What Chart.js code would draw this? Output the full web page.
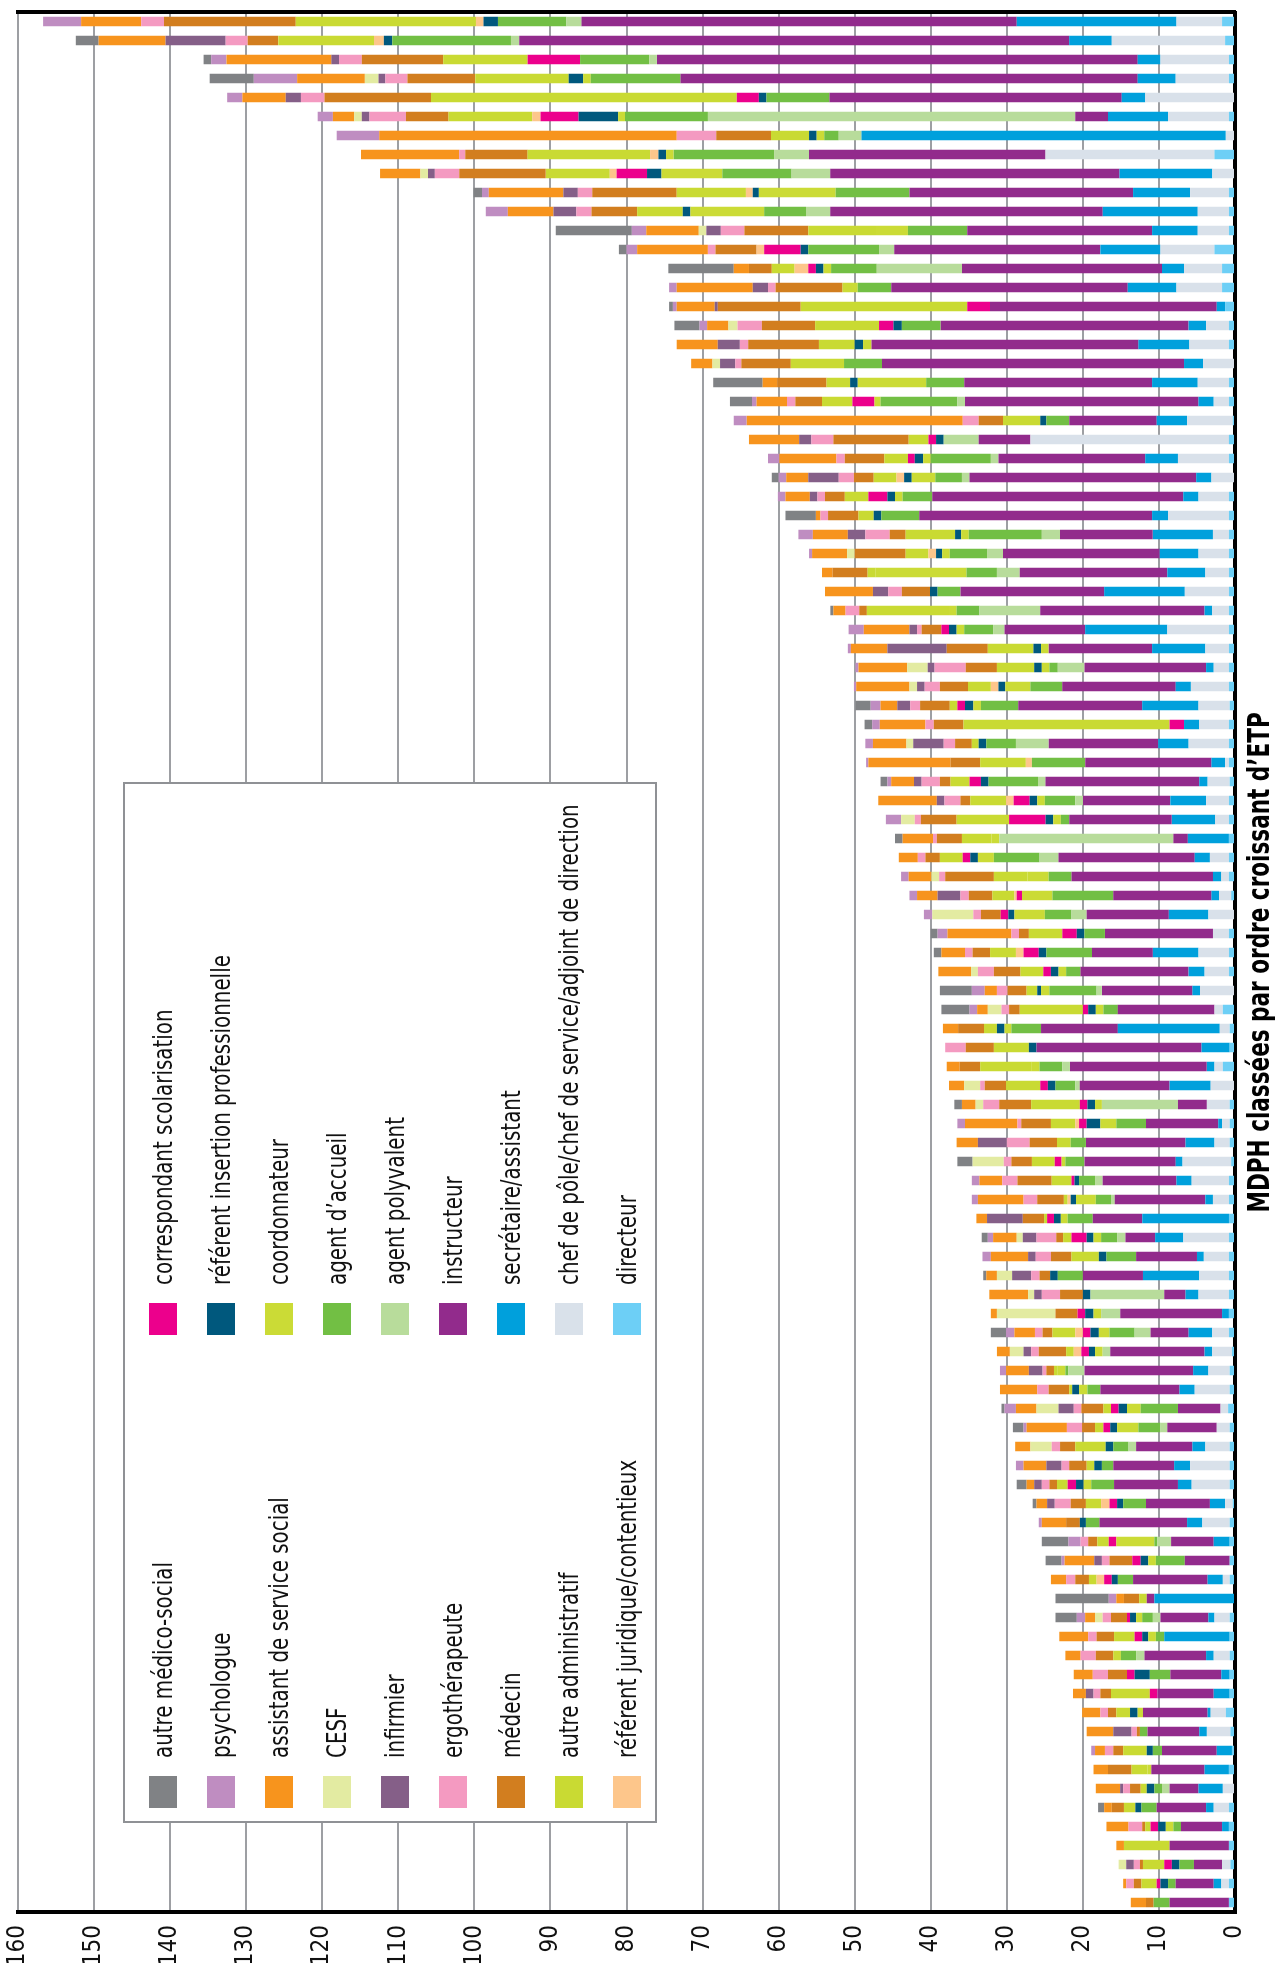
<!DOCTYPE html>
<html lang="fr">
<head>
<meta charset="utf-8">
<title>ETP des MDPH par fonction</title>
<script src="https://cdn.jsdelivr.net/npm/chart.js@4.4.1/dist/chart.umd.min.js"></script>
<style>
  html, body { margin: 0; padding: 0; background: #fff; }
  body { width: 1284px; height: 1963px; position: relative; overflow: hidden; }
  /* le graphique est dessiné à l'horizontale puis tourné d'un quart de tour */
  #frame {
    position: absolute; left: 0; top: 0; width: 1963px; height: 1284px;
    transform-origin: 0 0; transform: translateY(1963px) rotate(-90deg);
    font-family: 'Liberation Sans Narrow', 'DejaVu Sans Condensed', sans-serif;
  }
  #chart { position: absolute; left: 0; top: 0; }
  #legend {
    position: absolute; left: 140px; top: 123px; width: 1041px; height: 534px;
    box-sizing: border-box; border: 2px solid #8f9195; background: #fff;
  }
  .item { position: absolute; height: 30px; display: flex; align-items: center; white-space: nowrap; }
  .sw { width: 32px; height: 28px; margin-right: 18px; flex: none; }
  .item span { font-size: 26px; color: #111; display: inline-block; transform: scaleX(0.85); transform-origin: 0 50%; }
  #xtitle {
    position: absolute; left: 51px; width: 1900px; top: 1240px; text-align: center;
    font-size: 31px; font-weight: bold; line-height: 36px; color: #000;
  }
  #xtitle span { display: inline-block; transform-origin: 50% 50%; }
</style>
</head>
<body>
<div id="frame">
  <canvas id="chart" width="1963" height="1284"></canvas>
  <div id="legend"></div>
  <div id="xtitle"><span>MDPH classées par ordre croissant d’ETP</span></div>
</div>
<script>
// ETP par fonction, une valeur par MDPH, de la plus grosse à la plus petite
const directeur = [
  1.7, 1.3, 0.8, 0.8, 0, 0.8, 0, 2.7, 0, 0.8,
  0.8, 0.8, 2.7, 1.7, 1.7, 1.3, 0.8, 0.8, 0, 0.8,
  0.8, 0.3, 0.8, 0.8, 0, 0.8, 0.8, 0.8, 0.8, 0.8,
  0.8, 0.8, 0.8, 0.8, 0.8, 0.8, 0.7, 0.8, 0.8, 0.8,
  0.7, 0.8, 0.8, 0.8, 0.8, 0.8, 0.5, 0, 0.8, 0.8,
  0.8, 0, 1.6, 0.7, 0.7, 1.6, 0, 0.7, 0.7, 0.7,
  0.5, 0.8, 0.8, 0.8, 0.8, 0.8, 0.8, 0.8, 0.8, 0.8,
  0.4, 0.7, 0.7, 0.9, 0.7, 0.7, 0.7, 0.7, 0.3, 0.7,
  0.7, 0.7, 0.7, 0, 0.7, 0.7, 0.7, 0.7, 0.7, 1.2,
  0.6, 0.4, 0.8, 0, 0.8, 0.8, 0.8, 0.6, 0.8, 0.8
];
const chefPole = [
  6.0, 14.9, 9.0, 7.0, 11.8, 8.0, 1.2, 22.2, 3.0, 5.1,
  4.1, 4.1, 7.1, 5.0, 6.0, 0, 3.0, 5.2, 4.2, 4.1,
  2.0, 6.0, 26.1, 6.7, 3.1, 4.0, 8.0, 2.1, 4.0, 3.1,
  5.8, 2.2, 8.1, 3.1, 2.0, 5.0, 4.1, 3.9, 5.3, 0.5,
  2.9, 3.0, 1.8, 0, 2.5, 1.0, 1.6, 3.5, 2.1, 4.0,
  3.2, 4.6, 1.1, 1.3, 0, 1.1, 3.2, 3.0, 1.0, 2.0,
  6.4, 4.9, 2.1, 0, 6.0, 3.3, 3.9, 4.0, 0, 2.2,
  2.6, 2.8, 4.6, 1.0, 1.7, 3.2, 5.2, 5.0, 1.0, 3.6,
  0, 0, 0.9, 0, 2.0, 0, 2.1, 0, 0, 2.0,
  3.1, 0, 0, 1.6, 2.0, 0, 0, 1.1, 1.0, 0
];
const secretaire = [
  21.0, 5.6, 3.0, 5.0, 3.1, 7.9, 47.9, 0, 12.2, 7.5,
  12.5, 6.0, 7.9, 2.9, 6.4, 1.1, 2.3, 6.7, 2.5, 6.0,
  2.0, 4.0, 0, 4.3, 2.0, 2.0, 2.1, 7.9, 5.1, 5.0,
  10.6, 1.0, 10.8, 7.0, 1.0, 2.0, 7.4, 2.0, 4.0, 1.8,
  1.1, 4.7, 5.7, 5.4, 2.0, 1.1, 1.0, 5.2, 0, 6.0,
  2.1, 1.0, 0, 13.4, 3.7, 1.0, 5.4, 0, 0.5, 3.8,
  0.9, 2.0, 1.0, 11.4, 3.7, 0.9, 7.4, 1.7, 0.9, 3.1,
  1.0, 2.0, 2.0, 0, 0, 1.7, 2.1, 1.8, 2.0, 2.0,
  2.1, 0, 2.0, 10.6, 0.8, 8.6, 1.0, 1.1, 2.1, 0.4,
  1.0, 2.0, 3.2, 3.2, 1.0, 0.9, 0, 0, 1.0, 0
];
const instructeur = [
  57.2, 72.3, 63.2, 60.1, 38.4, 4.3, 0, 31.1, 38.0, 29.4,
  35.8, 24.3, 27.1, 26.3, 31.1, 29.8, 32.6, 35.1, 39.7, 24.7,
  30.7, 11.5, 6.8, 19.3, 29.8, 33.0, 30.6, 12.2, 20.6, 19.4,
  18.9, 21.6, 10.6, 13.6, 16.0, 14.9, 16.3, 0, 14.4, 16.6,
  20.2, 11.5, 13.5, 1.9, 17.9, 18.6, 12.9, 10.8, 14.2, 8.0,
  14.2, 11.9, 12.7, 10.1, 21.7, 18.0, 11.8, 3.8, 9.5, 13.1,
  12.0, 9.7, 11.9, 6.5, 3.9, 8.0, 7.9, 2.8, 13.4, 5.0,
  12.4, 14.3, 10.4, 5.6, 6.5, 7.4, 8.0, 8.4, 8.4, 11.5,
  5.6, 5.9, 9.8, 1.0, 6.3, 0, 8.1, 6.7, 7.4, 8.5,
  6.8, 7.2, 7.0, 3.8, 6.5, 5.4, 7.8, 3.7, 5.0, 7.8
];
const agentPolyvalent = [
  2.0, 1.1, 1.0, 0, 0, 48.3, 3.0, 4.6, 5.1, 0,
  3.2, 0, 2.0, 11.2, 0, 0, 0, 0, 0, 0,
  1.0, 0, 4.6, 1.0, 1.0, 0, 0, 2.4, 2.1, 3.0,
  0, 8.0, 1.5, 0, 3.5, 0, 0, 0, 4.3, 0,
  1.0, 1.0, 0, 22.9, 2.5, 0, 0, 2.0, 0, 0,
  0, 0.7, 0, 0, 0, 1.0, 0.6, 10.0, 0, 0,
  0, 1.0, 0.5, 0, 1.1, 0, 0, 9.7, 2.5, 2.1,
  1.0, 2.1, 0, 0, 0.9, 1.0, 0, 0, 0, 0,
  1.8, 0, 0, 0, 1.0, 0, 1.1, 0, 0, 0,
  0, 0, 0, 1.0, 0, 0, 0, 0, 0, 0
];
const agentAccueil = [
  9.0, 15.6, 9.1, 11.8, 8.3, 10.9, 1.9, 13.2, 9.1, 9.7,
  5.5, 7.8, 9.3, 6.0, 4.4, 0, 5.1, 0, 5.0, 5.0,
  10.1, 3.0, 0, 7.9, 3.5, 3.9, 5.0, 9.6, 4.9, 4.0,
  3.0, 3.0, 3.8, 0, 1.1, 4.2, 4.9, 0, 3.9, 7.0,
  6.5, 4.0, 1.1, 0, 6.0, 3.0, 8.0, 3.5, 2.7, 6.0,
  1.9, 6.2, 1.9, 3.9, 0, 3.0, 2.6, 0, 3.9, 2.0,
  2.5, 2.1, 2.0, 3.3, 2.1, 3.9, 3.3, 0, 0, 3.3,
  0, 0.4, 1.7, 4.9, 2.9, 2.0, 1.5, 3.0, 3.0, 1.8,
  0.4, 3.8, 2.0, 0, 1.4, 1.1, 2.0, 2.7, 0, 0,
  1.0, 1.2, 0, 1.0, 2.0, 1.0, 0, 1.9, 1.0, 2.1
];
const coordonnateur = [
  0, 0, 0, 1.0, 0, 0.9, 1.0, 1.0, 8.0, 10.1,
  9.7, 4.2, 0, 1.0, 2.0, 0, 0, 1.1, 0, 9.0,
  0.8, 0, 0, 1.0, 3.1, 1.0, 0, 1.0, 1.0, 12.0,
  0, 1.0, 1.0, 1.0, 1.0, 3.3, 1.0, 0, 0, 0,
  0, 1.0, 1.0, 1.0, 2.1, 2.8, 4.0, 4.0, 0, 0,
  1.0, 1.1, 1.0, 0.9, 0, 1.1, 0, 0.9, 2.1, 0,
  0.5, 0, 2.6, 0.9, 1.0, 0, 0, 0, 1.0, 1.4,
  1.0, 1.0, 1.1, 1.8, 2.8, 0, 0, 1.0, 0, 0,
  5.0, 1.0, 0, 0, 0.8, 1.0, 1.0, 0, 0, 0.7,
  0, 0, 0.5, 0, 0, 1.0, 0, 0, 0, 0
];
const refInsertion = [
  1.9, 1.1, 0, 1.9, 1.0, 5.2, 1.0, 1.0, 1.9, 0.8,
  1.0, 0, 1.0, 1.0, 0, 0, 1.1, 1.1, 0, 1.0,
  0, 0.8, 1.0, 1.1, 1.0, 1.0, 1.0, 0.8, 0.8, 0,
  1.0, 0, 1.0, 1.0, 1.0, 0.9, 1.1, 0, 1.0, 0,
  1.0, 1.0, 1.0, 0, 1.0, 0, 0, 0.8, 1.0, 1.0,
  1.0, 0.5, 1.0, 1.0, 1.0, 0, 1.0, 1.0, 1.8, 0,
  0, 0.6, 0.7, 0.9, 0.9, 1.0, 1.0, 1.0, 1.1, 1.1,
  0.8, 0, 0.9, 1.1, 0.9, 1.0, 1.0, 1.0, 0.8, 0.8,
  0, 1.0, 0.8, 0, 0.8, 0.8, 0, 2.0, 0, 1.0,
  0, 0.8, 0, 1.0, 0.8, 1.0, 0, 1.0, 1.0, 0
];
const corrScolarisation = [
  0, 0, 6.9, 0, 2.9, 5.0, 0, 0, 4.0, 0,
  0, 0, 4.8, 1.0, 0, 3.0, 1.9, 0, 0, 0,
  2.9, 0, 1.0, 0.9, 0, 2.5, 0, 0, 0, 0,
  0, 0, 1.0, 0, 0, 0, 1.0, 1.9, 0, 0,
  1.5, 2.1, 4.8, 0, 1.0, 0, 0.7, 1.0, 1.9, 2.0,
  1.0, 0, 0.7, 0, 0, 0, 1.0, 1.0, 1.0, 0,
  0.9, 0.4, 0, 0.9, 2.0, 0, 0, 0, 1.0, 1.0,
  1.0, 0, 0, 1.0, 0.9, 0, 0, 1.1, 1.0, 0,
  1.0, 1.1, 1.0, 0, 0.4, 1.0, 0, 1.0, 1.0, 0,
  0, 0, 0, 0, 0, 1.0, 0, 1.0, 0.5, 0
];
const refJuridique = [
  1.0, 1.3, 0, 0, 0, 1.1, 0, 1.1, 0.9, 0.9,
  0, 0, 1.0, 1.8, 0, 0, 0, 0, 0, 0,
  0, 0, 0, 0, 1.0, 0, 0, 0, 1.0, 0,
  0, 0, 0, 0, 0, 1.0, 0, 0, 0, 0.8,
  0, 1.0, 0, 0, 0, 0, 0.3, 0, 0, 1.0,
  0, 0, 0, 0, 0, 0, 0, 0, 0.5, 0,
  0, 0, 0.4, 0, 0, 0, 0, 0, 0, 1.0,
  1.0, 0, 0, 0, 0, 0, 0, 0, 1.1, 0,
  0, 0, 1.0, 0, 0, 0, 0, 0, 0, 0,
  0, 0, 0, 0, 0, 0, 0, 0, 0, 0
];
const autreAdmin = [
  23.7, 12.6, 11.1, 12.3, 40.2, 11.0, 5.0, 16.1, 8.4, 9.1,
  6.0, 8.9, 0, 3.0, 0, 21.9, 8.4, 4.7, 7.0, 3.1,
  4.0, 4.9, 2.6, 3.1, 3.0, 3.1, 2.0, 6.5, 3.0, 1.0,
  0, 10.8, 0, 6.0, 4.9, 3.0, 1.0, 27.1, 0.9, 6.0,
  2.5, 4.7, 6.9, 3.9, 3.0, 4.4, 2.9, 0, 4.4, 3.4,
  3.0, 1.4, 8.3, 1.7, 4.6, 6.7, 4.5, 6.4, 3.2, 1.8,
  3.0, 2.6, 0.5, 0.4, 1.1, 3.6, 0, 0, 0, 3.0,
  1.0, 0.5, 0.4, 1.0, 1.1, 4.0, 1.0, 1.4, 2.0, 0,
  1.5, 0, 1.0, 1.0, 0, 2.7, 0, 0, 5.1, 1.8,
  0, 3.1, 2.1, 0.8, 1.5, 0.7, 6.0, 2.8, 2.0, 0
];
const medecin = [
  17.3, 4.0, 10.7, 8.9, 14.0, 5.6, 7.2, 8.2, 11.4, 11.1,
  6.0, 8.4, 5.4, 3.0, 8.8, 10.9, 7.0, 9.3, 6.5, 6.5,
  3.5, 3.2, 9.9, 5.2, 2.6, 2.6, 4.0, 2.1, 6.7, 4.6,
  3.7, 1.0, 2.6, 5.4, 4.1, 3.7, 3.9, 3.9, 2.2, 3.9,
  1.4, 1.3, 4.7, 3.3, 1.9, 6.4, 3.1, 2.6, 1.3, 2.3,
  3.5, 2.5, 1.4, 3.4, 3.7, 2.7, 2.8, 4.2, 3.9, 3.6,
  2.7, 4.5, 3.5, 2.8, 0.9, 2.7, 1.4, 3.0, 2.9, 1.3,
  3.6, 1.0, 2.7, 2.9, 1.7, 2.0, 2.3, 1.0, 2.0, 1.8,
  1.2, 3.0, 1.8, 2.0, 2.1, 2.3, 2.3, 2.5, 1.4, 1.1,
  0.4, 1.3, 3.1, 1.4, 1.6, 0.4, 0, 0.4, 1.0, 1.0
];
const ergotherapeute = [
  3.0, 2.9, 3.0, 2.9, 3.1, 4.8, 5.2, 0.8, 3.2, 1.9,
  2.0, 3.1, 1.0, 0, 1.0, 0, 3.2, 1.1, 0.8, 0,
  1.1, 2.1, 2.9, 1.1, 2.0, 1.0, 1.0, 3.2, 0, 0,
  1.8, 1.8, 0.6, 0, 4.1, 2.0, 1.3, 1.1, 1.5, 0,
  2.4, 2.1, 0.8, 0.5, 1.0, 0.8, 1.1, 1.0, 1.0, 1.0,
  2.1, 1.4, 1.0, 0, 2.7, 0, 0.6, 2.1, 0.5, 3.0,
  1.0, 2.0, 1.8, 0, 2.6, 2.0, 1.1, 2.4, 0, 1.0,
  1.0, 0.5, 1.5, 1.0, 2.0, 1.1, 1.0, 1.0, 2.1, 0,
  1.0, 1.0, 1.2, 0, 1.1, 1.1, 2.0, 2.0, 0.9, 1.0,
  0.7, 1.1, 0, 0.9, 0, 1.8, 0, 0.8, 1.0, 0
];
const infirmier = [
  0, 7.9, 1.0, 0.9, 2.0, 1.0, 0, 0, 0.9, 1.9,
  3.0, 1.9, 0, 0, 2.0, 0.4, 0, 2.9, 2.0, 0,
  0, 0, 1.6, 0, 4.0, 1.0, 0, 2.3, 0, 0,
  2.0, 0, 1.0, 7.8, 0.9, 1.0, 1.7, 0, 4.0, 0,
  1.0, 1.0, 0, 0, 0, 0, 3.0, 0, 0, 0,
  0, 0, 0, 0, 0, 0, 0, 0, 0, 3.8,
  0, 0, 0, 4.7, 1.8, 1.0, 2.5, 1.0, 0, 0,
  1.0, 1.8, 0, 2.0, 0, 0, 2.0, 1.0, 1.0, 0,
  0, 1.0, 0, 0, 0, 0, 0, 0, 1.0, 0,
  2.4, 0, 0, 0.4, 0, 0, 0, 1.0, 0, 0
];
const cesf = [
  0, 0, 0, 1.8, 0, 1.0, 0, 0, 1.0, 0,
  0, 1.0, 0, 0, 0, 0, 1.2, 0, 1.0, 0,
  0, 0, 0, 0, 0, 0, 0, 0, 1.0, 0,
  0, 0, 0, 0, 2.7, 1.0, 0, 0, 0.9, 0,
  0, 0, 1.8, 0, 0, 1.0, 0, 5.4, 0, 0,
  0.9, 0, 1.8, 0, 0, 0, 2.1, 1.0, 0, 0,
  4.1, 0, 0, 0, 0.8, 0, 2.0, 0.8, 7.7, 0,
  1.8, 0, 0, 2.9, 0, 2.8, 0, 0, 0, 0,
  0, 0, 0, 0, 1.0, 0, 0, 0, 0, 0,
  0, 0, 0, 0, 0, 0, 0, 1.0, 0, 0
];
const assistantSocial = [
  7.9, 8.8, 13.8, 8.9, 5.7, 2.8, 39.1, 12.9, 5.3, 9.8,
  6.0, 6.9, 9.3, 2.0, 10.0, 5.0, 2.8, 5.4, 2.8, 1.9,
  4.0, 28.4, 6.6, 7.5, 2.9, 3.2, 0.6, 4.6, 4.6, 1.4,
  6.3, 1.6, 6.0, 4.8, 6.4, 7.0, 2.2, 6.0, 4.4, 10.8,
  3.0, 7.7, 0, 4.0, 2.5, 3.0, 2.7, 0, 8.4, 3.1,
  4.3, 1.6, 1.4, 2.0, 0, 1.7, 2.0, 1.8, 6.9, 2.8,
  0, 3.0, 6.0, 1.4, 3.1, 4.9, 1.4, 5.1, 0.8, 2.7,
  1.7, 3.0, 4.9, 2.7, 5.3, 2.0, 3.0, 1.0, 1.4, 3.2,
  0, 3.9, 2.0, 1.0, 1.3, 3.8, 2.0, 2.5, 1.7, 2.4,
  3.5, 1.3, 1.9, 3.2, 1.0, 2.9, 1.0, 0, 0.4, 2.0
];
const psychologue = [
  5.0, 0, 2.0, 5.7, 2.0, 2.0, 5.6, 0, 0, 0.9,
  2.9, 1.9, 1.4, 0, 1.0, 0.5, 1.0, 0, 0, 0,
  0.6, 1.7, 0, 1.5, 1.0, 1.0, 0, 1.9, 0.4, 0,
  0, 0, 2.0, 0.4, 0.4, 0.3, 1.3, 1.0, 1.0, 0.3,
  0.5, 0, 2.0, 0, 0, 1.0, 1.0, 1.1, 1.3, 0,
  0, 1.7, 1.0, 0, 0, 0, 0, 0, 1.0, 0,
  0, 1.0, 0.8, 0, 0.7, 1.1, 0, 0, 0, 1.1,
  0, 0.8, 0, 1.5, 0.4, 0, 1.0, 0, 0, 0.4,
  1.6, 0.4, 0, 1.0, 1.1, 0, 0, 0, 0, 0,
  0, 0.5, 0, 0, 0, 0, 0, 0, 0, 0
];
const autreMedicoSocial = [
  0, 3.0, 1.0, 5.8, 0, 0, 0, 0, 0, 1.1,
  0, 10.0, 1.0, 8.6, 0, 0.5, 3.3, 0, 0, 6.5,
  2.9, 0, 0, 0, 0.9, 0, 4.0, 0, 0, 0,
  0, 0.4, 0, 0, 0, 0, 2.0, 1.0, 0, 0,
  0.9, 0, 0, 1.0, 0, 0, 0, 0, 0.9, 1.0,
  0, 4.2, 3.7, 0, 0, 0, 0, 1.0, 0, 0,
  2.0, 0, 0, 0, 0.8, 0, 0.4, 0, 0, 2.0,
  0, 0, 0, 0.4, 1.4, 0, 0, 1.3, 0.5, 0,
  3.5, 2.1, 0, 7.0, 2.8, 0, 0, 0, 0, 0,
  0, 0, 0, 0, 0.8, 0, 0, 0, 0, 0
];

// rang des MDPH (100 = la plus grosse)
const mdph = directeur.map((_, i) => 'MDPH ' + (directeur.length - i));

const C = {
    dir:   '#6dcff6',
    chef:  '#d9e1ea',
    sec:   '#00a0dc',
    ins:   '#922b8c',
    poly:  '#b8dc9b',
    acc:   '#72bf44',
    coord: '#cbdb36',
    rins:  '#00587d',
    corr:  '#ec008c',
    rjur:  '#fdc68b',
    aadm:  '#c9da33',
    med:   '#d27e1f',
    ergo:  '#f49ac1',
    inf:   '#855f88',
    cesf:  '#e3eba2',
    as:    '#f7941d',
    psy:   '#bf8dc1',
    amed:  '#808285',
    grid:  '#9d9fa3',
};

// ordre d'empilement, de la base vers le haut de la barre
const series = [
    ['directeur', directeur, C.dir],
    ['chef de pôle/chef de service/adjoint de direction', chefPole, C.chef],
    ['secrétaire/assistant', secretaire, C.sec],
    ['instructeur', instructeur, C.ins],
    ['agent polyvalent', agentPolyvalent, C.poly],
    ['agent d’accueil', agentAccueil, C.acc],
    ['coordonnateur', coordonnateur, C.coord],
    ['référent insertion professionnelle', refInsertion, C.rins],
    ['correspondant scolarisation', corrScolarisation, C.corr],
    ['référent juridique/contentieux', refJuridique, C.rjur],
    ['autre administratif', autreAdmin, C.aadm],
    ['médecin', medecin, C.med],
    ['ergothérapeute', ergotherapeute, C.ergo],
    ['infirmier', infirmier, C.inf],
    ['CESF', cesf, C.cesf],
    ['assistant de service social', assistantSocial, C.as],
    ['psychologue', psychologue, C.psy],
    ['autre médico-social', autreMedicoSocial, C.amed],
];

const legendCols = [
    ['autre médico-social', 'psychologue', 'assistant de service social', 'CESF', 'infirmier',
     'ergothérapeute', 'médecin', 'autre administratif', 'référent juridique/contentieux'],
    ['correspondant scolarisation', 'référent insertion professionnelle', 'coordonnateur',
     'agent d’accueil', 'agent polyvalent', 'instructeur', 'secrétaire/assistant',
     'chef de pôle/chef de service/adjoint de direction', 'directeur'],
];

const FONT = "'Liberation Sans Narrow', 'DejaVu Sans Condensed', sans-serif";
Chart.defaults.font.family = FONT;
Chart.defaults.color = '#111';

new Chart(document.getElementById('chart'), {
    type: 'bar',
    data: {
        labels: mdph,
        datasets: series.map(([label, data, color]) => ({
            label, data,
            backgroundColor: color,
            borderWidth: 0,
            barPercentage: 0.5,
            categoryPercentage: 1,
        })),
    },
    options: {
        responsive: false,
        animation: false,
        layout: { padding: { top: 18, right: 12, bottom: 49, left: 0 } },
        plugins: { legend: { display: false }, tooltip: { enabled: false } },
        scales: {
            x: {
                stacked: true, reverse: true,
                grid: { display: false, drawTicks: false },
                ticks: { display: false },
                border: { display: true, color: '#000', width: 4 },
                afterFit: s => { s.height = 0; },
            },
            y: {
                stacked: true, min: 0, max: 160,
                ticks: { stepSize: 10, padding: 13, color: '#111', font: { size: 24 } },
                grid: { color: C.grid, lineWidth: 2, drawTicks: false },
                border: { color: '#000', width: 4 },
                // largeur fixe, et pas de marge ajoutée pour le libellé du haut
                afterFit: s => { s.width = 51; s.paddingTop = 0; s.paddingBottom = 0; },
            },
            y2: {
                position: 'right', min: 0, max: 160,
                grid: { display: false, drawTicks: false },
                ticks: { display: false },
                border: { display: true, color: '#000', width: 4 },
                afterFit: s => { s.width = 0; },
            },
        },
    },
});

// légende en deux colonnes dans un cadre posé sur le graphique
const colorOf = Object.fromEntries(series.map(([l, , c]) => [l, c]));
const legend = document.getElementById('legend');
legendCols.forEach((col, ci) => {
    col.forEach((label, ri) => {
        const item = document.createElement('div');
        item.className = 'item';
        item.style.left = (ci ? 486 : 13) + 'px';
        item.style.top = (23 + ri * 58) + 'px';
        const sw = document.createElement('div');
        sw.className = 'sw';
        sw.style.background = colorOf[label];
        const txt = document.createElement('span');
        txt.textContent = label;
        item.append(sw, txt);
        legend.appendChild(item);
    });
});

// titre de l'axe ramené à la largeur de l'original (police étroite)
const tspan = document.querySelector('#xtitle span');
tspan.style.transform = 'scaleX(' + (500 / tspan.offsetWidth).toFixed(3) + ')';
</script>
</body>
</html>
